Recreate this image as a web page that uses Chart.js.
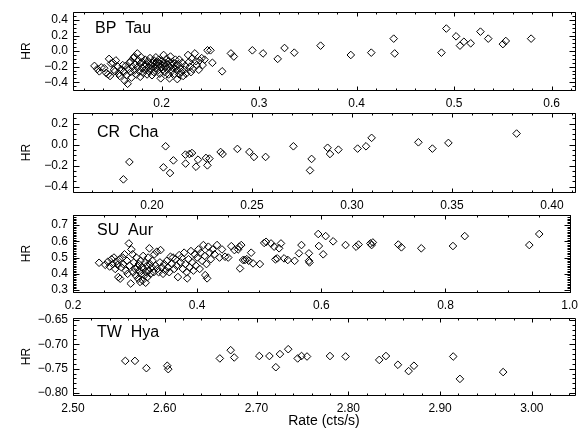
<!DOCTYPE html>
<html><head><meta charset="utf-8">
<script src="https://cdn.jsdelivr.net/npm/chart.js@4"></script>
<style>
html,body{margin:0;padding:0;background:#fff}
#wrap{position:relative;width:584px;height:432px;background:#fff}
canvas{position:absolute;left:0;top:0}
</style></head><body><div id="wrap">
<canvas id="c0" width="584" height="432"></canvas>
<canvas id="c1" width="584" height="432"></canvas>
<canvas id="c2" width="584" height="432"></canvas>
<canvas id="c3" width="584" height="432"></canvas>
</div>
<script>
// ---------------- DATA ----------------
const starNames = ['BP  Tau', 'CR  Cha', 'SU  Aur', 'TW  Hya'];
const xTitle = 'Rate (cts/s)';
const yTitle = 'HR';

// [rate, hardness ratio]
const bpTauPoints = [
[0.131,-0.19],[0.134,-0.23],[0.136,-0.26],[0.138,-0.21],[0.141,-0.22],[0.143,-0.28],[0.145,-0.30],[0.146,-0.10],[0.147,-0.32],[0.148,-0.16],
[0.150,-0.15],[0.151,-0.24],[0.152,-0.26],[0.153,-0.12],[0.155,-0.20],[0.156,-0.29],[0.157,-0.32],[0.158,-0.24],[0.160,-0.18],[0.161,-0.27],
[0.162,-0.38],[0.163,-0.19],[0.164,-0.31],[0.165,-0.42],[0.166,-0.23],[0.167,-0.15],[0.168,-0.13],[0.168,-0.27],[0.169,-0.34],[0.170,-0.20],
[0.171,-0.09],[0.172,-0.07],[0.172,-0.25],[0.173,-0.17],[0.174,-0.30],[0.175,-0.03],[0.175,-0.21],[0.176,-0.12],[0.177,-0.26],[0.178,-0.16],
[0.178,-0.33],[0.179,-0.08],[0.180,-0.22],[0.180,-0.14],[0.181,-0.28],[0.182,-0.19],[0.183,-0.11],[0.183,-0.24],[0.184,-0.17],[0.185,-0.30],
[0.186,-0.13],[0.186,-0.21],[0.187,-0.26],[0.188,-0.09],[0.188,-0.18],[0.189,-0.23],[0.190,-0.15],[0.190,-0.31],[0.191,-0.20],[0.192,-0.12],
[0.192,-0.27],[0.193,-0.17],[0.194,-0.22],[0.194,-0.08],[0.195,-0.14],[0.196,-0.25],[0.196,-0.19],[0.197,-0.11],[0.198,-0.29],[0.198,-0.16],
[0.199,-0.35],[0.199,-0.21],[0.200,-0.13],[0.201,-0.24],[0.201,-0.18],[0.202,-0.05],[0.203,-0.27],[0.203,-0.15],[0.204,-0.20],[0.205,-0.10],
[0.205,-0.23],[0.206,-0.17],[0.207,-0.30],[0.207,-0.13],[0.208,-0.35],[0.208,-0.21],[0.209,-0.07],[0.210,-0.18],[0.210,-0.26],[0.211,-0.14],
[0.212,-0.22],[0.213,-0.16],[0.213,-0.29],[0.214,-0.11],[0.215,-0.20],[0.216,-0.36],[0.216,-0.25],[0.217,-0.17],[0.218,-0.11],[0.218,-0.30],
[0.219,-0.22],[0.220,-0.27],[0.221,-0.15],[0.222,-0.32],[0.223,-0.24],[0.224,-0.19],[0.225,-0.29],[0.227,-0.05],[0.228,-0.14],[0.229,-0.20],
[0.230,-0.27],[0.231,-0.10],[0.232,-0.23],[0.234,-0.03],[0.235,-0.13],[0.236,-0.18],[0.238,-0.24],[0.239,-0.12],[0.241,-0.09],[0.242,-0.18],
[0.244,-0.11],[0.247,0.01],[0.250,0.01],[0.252,-0.15],[0.262,-0.26],
[0.271,-0.03],[0.274,-0.07],[0.293,0.01],[0.304,-0.03],[0.319,-0.10],[0.326,0.04],[0.336,-0.02],[0.363,0.07],[0.394,-0.05],[0.415,-0.02],
[0.438,0.16],[0.439,-0.03],[0.487,-0.02],[0.492,0.29],[0.502,0.19],[0.506,0.07],[0.510,0.12],[0.517,0.10],[0.527,0.25],[0.535,0.16],
[0.550,0.09],[0.553,0.13],[0.579,0.16]
];

const crChaPoints = [
[0.1857,-0.33],[0.1887,-0.165],[0.2068,-0.016],[0.2057,-0.216],[0.2090,-0.27],[0.2107,-0.15],[0.2167,-0.095],[0.2168,-0.18],[0.2187,-0.089],[0.2200,-0.08],
[0.2220,-0.21],[0.2230,-0.143],[0.2270,-0.127],[0.2277,-0.197],[0.2287,-0.133],[0.2343,-0.07],[0.2353,-0.089],[0.2427,-0.041],[0.2487,-0.07],[0.2510,-0.117],
[0.2568,-0.117],[0.2707,-0.016],[0.2790,-0.245],[0.2798,-0.136],[0.2878,-0.03],[0.2890,-0.089],[0.2932,-0.048],[0.3028,-0.038],[0.3070,-0.016],[0.3098,0.064],
[0.3332,0.022],[0.3402,-0.038],[0.3482,0.016],[0.3823,0.105]
];

const suAurPoints = [
[0.242,0.468],[0.252,0.455],[0.256,0.474],[0.259,0.445],[0.262,0.490],[0.264,0.460],[0.266,0.500],[0.268,0.430],[0.270,0.475],[0.272,0.455],
[0.273,0.380],[0.275,0.490],[0.276,0.370],[0.278,0.440],[0.280,0.500],[0.281,0.460],[0.283,0.520],[0.285,0.420],[0.287,0.480],[0.288,0.400],
[0.290,0.587],[0.291,0.450],[0.293,0.340],[0.294,0.550],[0.296,0.520],[0.297,0.410],[0.298,0.470],[0.300,0.430],[0.301,0.390],[0.302,0.500],
[0.304,0.440],[0.305,0.370],[0.306,0.460],[0.307,0.420],[0.308,0.350],[0.309,0.480],[0.310,0.400],[0.311,0.440],[0.312,0.360],[0.313,0.510],
[0.314,0.430],[0.315,0.390],[0.316,0.470],[0.317,0.345],[0.318,0.410],[0.319,0.450],[0.320,0.380],[0.321,0.500],[0.322,0.420],[0.323,0.557],
[0.324,0.460],[0.325,0.400],[0.327,0.440],[0.328,0.480],[0.330,0.410],[0.331,0.520],[0.333,0.450],[0.335,0.536],[0.336,0.430],[0.338,0.410],
[0.340,0.470],[0.341,0.546],[0.343,0.440],[0.345,0.400],[0.347,0.460],[0.349,0.420],[0.351,0.480],[0.353,0.440],[0.355,0.410],[0.357,0.505],
[0.359,0.460],[0.361,0.500],[0.363,0.430],[0.365,0.490],[0.367,0.450],[0.369,0.380],[0.371,0.515],[0.373,0.470],[0.375,0.500],[0.377,0.430],
[0.379,0.530],[0.381,0.460],[0.383,0.410],[0.384,0.372],[0.386,0.490],[0.388,0.440],[0.390,0.540],[0.392,0.470],[0.394,0.420],[0.396,0.520],
[0.398,0.450],[0.400,0.500],[0.402,0.550],[0.404,0.430],[0.406,0.530],[0.408,0.480],[0.410,0.577],[0.412,0.510],[0.413,0.392],[0.415,0.460],
[0.416,0.372],[0.418,0.567],[0.420,0.530],[0.422,0.490],[0.425,0.550],[0.428,0.520],[0.432,0.577],[0.436,0.500],[0.440,0.550],[0.445,0.505],
[0.450,0.500],[0.455,0.570],[0.460,0.546],[0.466,0.550],[0.468,0.567],[0.469,0.433],[0.471,0.577],[0.474,0.485],[0.477,0.485],[0.480,0.490],
[0.483,0.480],[0.487,0.530],[0.490,0.464],[0.501,0.460],[0.508,0.590],[0.511,0.597],[0.519,0.587],[0.524,0.567],[0.526,0.489],[0.529,0.495],
[0.532,0.557],[0.535,0.587],[0.540,0.495],[0.546,0.485],[0.557,0.480],[0.564,0.526],[0.568,0.577],[0.580,0.526],[0.580,0.480],[0.581,0.470],
[0.595,0.645],[0.596,0.571],[0.603,0.520],[0.607,0.632],[0.619,0.600],[0.639,0.577],[0.656,0.567],[0.660,0.580],[0.679,0.587],[0.681,0.577],
[0.683,0.593],[0.724,0.580],[0.729,0.563],[0.761,0.557],[0.812,0.571],[0.831,0.632],[0.935,0.577],[0.951,0.645]
];

const twHyaPoints = [
[2.557,-0.734],[2.5675,-0.734],[2.580,-0.749],[2.6027,-0.744],[2.6038,-0.751],[2.660,-0.729],[2.6718,-0.712],[2.6757,-0.727],[2.703,-0.724],[2.714,-0.724],
[2.721,-0.747],[2.7255,-0.720],[2.7345,-0.710],[2.7448,-0.729],[2.749,-0.724],[2.755,-0.725],[2.780,-0.724],[2.797,-0.725],[2.8337,-0.732],[2.841,-0.724],
[2.854,-0.742],[2.8657,-0.755],[2.8715,-0.744],[2.9143,-0.725],[2.9216,-0.771],[2.9687,-0.757]
];

// tick labels
const bpTauXTicks = ['0.2','0.3','0.4','0.5','0.6'];
const bpTauYTicks = ['\u22120.4','\u22120.2','0.0','0.2','0.4'];
const crChaXTicks = ['0.20','0.25','0.30','0.35','0.40'];
const crChaYTicks = ['\u22120.4','\u22120.2','0.0','0.2'];
const suAurXTicks = ['0.2','0.4','0.6','0.8','1.0'];
const suAurYTicks = ['0.3','0.4','0.5','0.6','0.7'];
const twHyaXTicks = ['2.50','2.60','2.70','2.80','2.90','3.00'];
const twHyaYTicks = ['\u22120.80','\u22120.75','\u22120.70','\u22120.65'];

// axis ranges [min,max]
const bpTauXRange = [0.109, 0.624], bpTauYRange = [-0.5, 0.5];
const crChaXRange = [0.1605, 0.4115], crChaYRange = [-0.45, 0.30];
const suAurXRange = [0.2, 1.0], suAurYRange = [0.288, 0.762];
const twHyaXRange = [2.5, 3.047], twHyaYRange = [-0.8041, -0.6459];

// minor tick steps [x,y]
const minorSteps = [[0.02,0.05],[0.01,0.05],[0.05,0.01],[0.02,0.01]];

// ---------------- LAYOUT ----------------
const W = 584, H = 432, LEFT = 73, RIGHT = 575;
const AREAS = [{top:10,bottom:90},{top:113,bottom:192},{top:215,bottom:292},{top:318,bottom:395}];
const NAME_POS = [{x:95,y:33},{x:97,y:137},{x:97,y:235},{x:97,y:337}];
const FONT = 'Liberation Sans, Arial, Helvetica, sans-serif';

const toNum = s => parseFloat(s.replace('\u2212','-'));

const frameTicks = {
  id: 'frameTicks',
  afterDraw(chart, args, o) {
    const ctx = chart.ctx, a = chart.chartArea, xs = chart.scales.x, ys = chart.scales.y;
    ctx.save();
    ctx.strokeStyle = '#000';
    ctx.lineWidth = 1;
    const L = Math.round(a.left) + 0.5, R = Math.round(a.right) + 0.5;
    const T = Math.round(a.top) + 0.5, B = Math.round(a.bottom) + 0.5;
    ctx.beginPath();
    ctx.rect(L, T, R - L, B - T);
    const doX = (step, len) => {
      const n0 = Math.ceil(xs.min / step - 1e-6), n1 = Math.floor(xs.max / step + 1e-6);
      for (let k = n0; k <= n1; k++) {
        const px = Math.round(xs.getPixelForValue(k * step)) + 0.5;
        ctx.moveTo(px, B); ctx.lineTo(px, B - len);
        ctx.moveTo(px, T); ctx.lineTo(px, T + len);
      }
    };
    const doY = (step, len) => {
      const n0 = Math.ceil(ys.min / step - 1e-6), n1 = Math.floor(ys.max / step + 1e-6);
      for (let k = n0; k <= n1; k++) {
        const py = Math.round(ys.getPixelForValue(k * step)) + 0.5;
        ctx.moveTo(L, py); ctx.lineTo(L + len, py);
        ctx.moveTo(R, py); ctx.lineTo(R - len, py);
      }
    };
    doX(o.minor[0], 2);
    doY(o.minor[1], 3);
    o.xMajor.forEach(v => {
      const px = Math.round(xs.getPixelForValue(v)) + 0.5;
      ctx.moveTo(px, B); ctx.lineTo(px, B - 4);
      ctx.moveTo(px, T); ctx.lineTo(px, T + 4);
    });
    o.yMajor.forEach(v => {
      const py = Math.round(ys.getPixelForValue(v)) + 0.5;
      ctx.moveTo(L, py); ctx.lineTo(L + 6, py);
      ctx.moveTo(R, py); ctx.lineTo(R - 6, py);
    });
    ctx.stroke();
    ctx.fillStyle = '#000';
    ctx.font = '16px ' + FONT;
    ctx.textBaseline = 'alphabetic';
    ctx.textAlign = 'left';
    ctx.fillText(o.name, o.nx, o.ny);
    ctx.restore();
  }
};

const panels = [
  {pts: bpTauPoints, xr: bpTauXRange, yr: bpTauYRange, xt: bpTauXTicks, yt: bpTauYTicks},
  {pts: crChaPoints, xr: crChaXRange, yr: crChaYRange, xt: crChaXTicks, yt: crChaYTicks},
  {pts: suAurPoints, xr: suAurXRange, yr: suAurYRange, xt: suAurXTicks, yt: suAurYTicks},
  {pts: twHyaPoints, xr: twHyaXRange, yr: twHyaYRange, xt: twHyaXTicks, yt: twHyaYTicks}
];

panels.forEach((p, i) => {
  const a = AREAS[i];
  const last = i === 3;
  const xAxisH = last ? 37 : 22;
  const xVals = p.xt.map(toNum), yVals = p.yt.map(toNum);
  new Chart(document.getElementById('c' + i), {
    type: 'scatter',
    data: {datasets: [{
      data: p.pts.map(d => ({x: d[0], y: d[1]})),
      pointStyle: 'rectRot', pointRadius: 3.8, pointHoverRadius: 3.8,
      borderColor: '#000', backgroundColor: 'rgba(0,0,0,0)', borderWidth: 1
    }]},
    options: {
      responsive: false, animation: false, devicePixelRatio: 1,
      events: [],
      layout: {padding: {left: 0, right: W - RIGHT, top: a.top, bottom: H - a.bottom - xAxisH}},
      plugins: {
        legend: {display: false}, tooltip: {enabled: false},
        frameTicks: {minor: minorSteps[i], xMajor: xVals, yMajor: yVals, name: starNames[i], nx: NAME_POS[i].x, ny: NAME_POS[i].y}
      },
      scales: {
        x: {
          type: 'linear', position: 'bottom', min: p.xr[0], max: p.xr[1],
          grid: {display: false, drawTicks: false}, border: {display: false},
          afterFit: s => { s.height = xAxisH; },
          afterBuildTicks: s => { s.ticks = xVals.map(v => ({value: v})); },
          ticks: {autoSkip: false, maxRotation: 0, padding: 6, color: '#000', font: {family: FONT, size: 12},
                  callback: (v, k) => p.xt[k]},
          title: {display: last, text: xTitle, color: '#000', font: {family: FONT, size: 14}, padding: {top: 0, bottom: 2}}
        },
        y: {
          type: 'linear', position: 'left', min: p.yr[0], max: p.yr[1],
          grid: {display: false, drawTicks: false}, border: {display: false},
          afterFit: s => { s.width = LEFT; },
          afterBuildTicks: s => { s.ticks = yVals.map(v => ({value: v})); },
          ticks: {autoSkip: false, padding: 5, color: '#000', font: {family: FONT, size: 12},
                  callback: (v, k) => p.yt[k]},
          title: {display: true, text: yTitle, color: '#000', font: {family: FONT, size: 12}, padding: {top: 19, bottom: 0}}
        }
      }
    },
    plugins: [frameTicks]
  });
});
</script>
</body></html>
